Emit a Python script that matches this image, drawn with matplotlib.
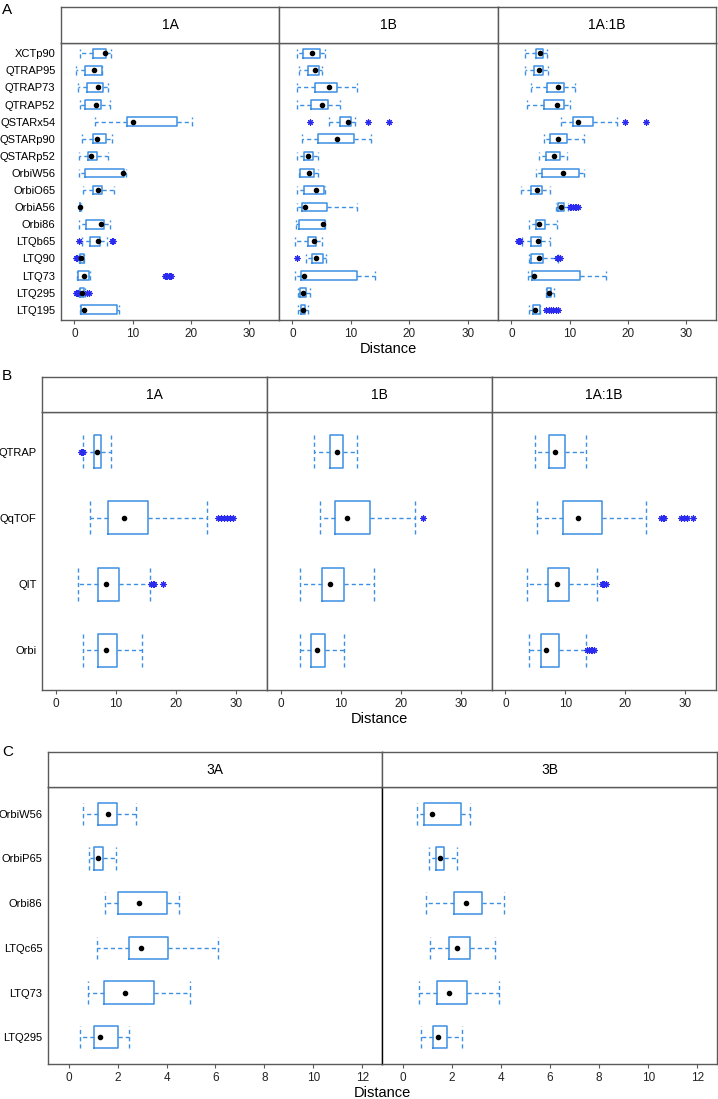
import matplotlib
matplotlib.use("Agg")
import matplotlib.pyplot as plt

plt.rcParams['font.family'] = ['Liberation Sans', 'DejaVu Sans']

# ---------------- DATA ----------------
# Panel A (rows top -> bottom)
A_labels = ["XCTp90", "QTRAP95", "QTRAP73", "QTRAP52", "QSTARx54", "QSTARp90", "QSTARp52",
            "OrbiW56", "OrbiO65", "OrbiA56", "Orbi86", "LTQb65", "LTQ90", "LTQ73", "LTQ295", "LTQ195"]
A_panels = ["1A", "1B", "1A:1B"]
# (whislo, q1, med, q3, whishi)
A_1A_stats = [(1.0, 3.2, 5.2, 5.5, 6.3), (0.35, 1.8, 3.4, 4.7, 4.8), (0.6, 2.2, 4.0, 4.9, 5.7),
              (1.0, 1.9, 3.8, 4.5, 6.1), (3.6, 9.1, 10.1, 17.6, 20.3), (1.3, 3.2, 3.9, 5.5, 6.4),
              (0.75, 2.3, 2.9, 3.9, 5.8), (0.86, 1.9, 8.3, 8.5, 8.8), (1.5, 3.2, 4.0, 4.8, 6.9),
              (0.9, 0.95, 1.0, 1.05, 1.1), (0.86, 1.95, 4.6, 5.05, 6.1), (1.3, 2.75, 4.0, 4.4, 5.6),
              (0.8, 0.9, 1.2, 1.6, 1.7), (0.5, 0.6, 1.6, 2.6, 2.7), (0.8, 1.0, 1.35, 1.6, 1.9),
              (1.0, 1.2, 1.7, 7.35, 7.7)]
A_1A_fliers = [[], [], [], [], [], [], [], [], [], [], [], [0.8, 6.4, 6.6],
               [0.3, 0.5], [15.6, 15.8, 16.0, 16.2, 16.4, 16.6], [0.3, 0.5, 0.6, 2.2, 2.5], []]
A_1B_stats = [(0.7, 1.8, 3.3, 4.7, 5.5), (1.15, 2.6, 3.8, 4.5, 5.0), (0.8, 3.9, 6.3, 7.6, 11.0),
              (0.8, 3.1, 5.0, 6.1, 8.2), (6.3, 8.2, 9.5, 10.0, 10.7), (1.65, 4.4, 7.7, 10.6, 13.5),
              (0.7, 2.0, 2.7, 3.5, 4.4), (1.15, 1.25, 2.85, 3.65, 4.4), (0.85, 2.0, 4.0, 5.4, 5.5),
              (0.85, 1.65, 2.2, 5.9, 11.0), (0.57, 1.1, 5.25, 5.5, 5.6), (0.5, 2.6, 3.65, 4.0, 5.0),
              (2.4, 3.4, 4.1, 5.15, 5.8), (0.5, 1.4, 1.95, 11.1, 14.1), (1.0, 1.3, 1.8, 2.3, 2.95),
              (1.0, 1.45, 1.8, 2.15, 2.7)]
A_1B_fliers = [[], [], [], [], [3.0, 13.0, 16.5], [], [], [], [], [], [], [],
               [0.7], [], [], []]
A_1A1B_stats = [(2.4, 4.2, 5.0, 5.5, 6.1), (2.3, 3.9, 4.7, 5.4, 6.3), (3.3, 6.1, 8.1, 9.1, 10.9),
                (2.7, 5.6, 7.9, 9.0, 10.0), (8.6, 10.6, 11.5, 14.0, 18.2), (5.6, 6.7, 8.0, 9.5, 12.45),
                (4.7, 6.0, 7.4, 8.3, 9.6), (4.2, 5.3, 8.85, 11.6, 12.45), (1.7, 3.4, 4.4, 5.25, 6.6),
                (7.6, 8.1, 8.6, 9.0, 9.7), (3.0, 4.3, 4.75, 5.7, 7.9), (1.8, 3.4, 4.6, 5.15, 6.6),
                (3.0, 3.4, 4.7, 5.4, 8.0), (2.85, 3.55, 3.9, 11.8, 16.2), (5.9, 6.2, 6.45, 6.85, 7.4),
                (3.0, 3.7, 4.0, 4.85, 4.95)]
A_1A1B_fliers = [[], [], [], [], [19.6, 23.2], [], [], [], [],
                 [10.0, 10.3, 10.6, 10.9, 11.2, 11.5], [], [1.1, 1.3, 1.5],
                 [7.9, 8.1, 8.3], [], [], [6.0, 6.4, 6.8, 7.2, 7.6, 8.1]]

# Panel B
B_labels = ["QTRAP", "QqTOF", "QIT", "Orbi"]
B_panels = ["1A", "1B", "1A:1B"]
B_1A_stats = [(4.6, 6.45, 6.95, 7.6, 9.2), (5.8, 8.7, 11.3, 15.3, 25.2),
              (3.7, 7.0, 8.3, 10.5, 15.6), (4.6, 7.0, 8.3, 10.2, 14.4)]
B_1A_fliers = [[4.2, 4.4, 4.6], [27.0, 27.5, 28.0, 28.5, 29.0, 29.5],
               [15.9, 16.1, 16.3, 17.8], []]
B_1B_stats = [(5.6, 8.2, 9.3, 10.4, 12.7), (6.5, 9.0, 11.05, 14.8, 22.4),
              (3.3, 6.95, 8.2, 10.5, 15.5), (3.2, 5.1, 6.1, 7.45, 10.6)]
B_1B_fliers = [[], [23.7], [], []]
B_1A1B_stats = [(5.0, 7.2, 8.3, 9.95, 13.4), (5.25, 9.6, 12.1, 16.1, 23.5),
                (3.65, 7.05, 8.6, 10.65, 15.3), (4.0, 5.95, 6.7, 8.95, 13.4)]
B_1A1B_fliers = [[], [25.9, 26.2, 26.5, 29.3, 29.8, 30.2, 31.3],
                 [16.1, 16.3, 16.5, 16.8], [13.6, 13.9, 14.2, 14.5, 14.8]]

# Panel C
C_labels = ["OrbiW56", "OrbiP65", "Orbi86", "LTQc65", "LTQ73", "LTQ295"]
C_panels = ["3A", "3B"]
C_3A_stats = [(0.59, 1.2, 1.63, 1.97, 2.74), (0.82, 1.02, 1.2, 1.42, 1.92),
              (1.5, 2.0, 2.89, 4.0, 4.52), (1.16, 2.46, 2.94, 4.08, 6.1),
              (0.8, 1.46, 2.29, 3.47, 4.95), (0.45, 1.05, 1.27, 2.0, 2.45)]
C_3B_stats = [(0.57, 0.89, 1.2, 2.37, 2.74), (1.09, 1.34, 1.54, 1.69, 2.2),
              (0.95, 2.1, 2.6, 3.24, 4.13), (1.12, 1.89, 2.2, 2.74, 3.77),
              (0.67, 1.39, 1.88, 2.64, 3.91), (0.74, 1.25, 1.42, 1.81, 2.4)]

A_ticks = [0, 10, 20, 30]
B_ticks = [0, 10, 20, 30]
C_ticks = [0, 2, 4, 6, 8, 10, 12]

# ---------------- STYLE ----------------
W, H = 718, 1099
BOX = '#3d8fe3'
FLIER = '#2b2bf0'
FRAME = '#5a5a5a'
fig = plt.figure(figsize=(W / 100, H / 100), dpi=100)


def rect(x0, y0, x1, y1):
    return [x0 / W, 1 - y1 / H, (x1 - x0) / W, (y1 - y0) / H]


def draw(ax, stats, fliers, labels, xlim, ticks, show_y):
    n = len(labels)
    pos = list(range(n, 0, -1))
    bstats = []
    for i, (lo, q1, med, q3, hi) in enumerate(stats):
        fl = fliers[i] if fliers is not None else []
        bstats.append(dict(label=labels[i], whislo=lo, q1=q1, med=med, q3=q3,
                           whishi=hi, fliers=fl, mean=med))
    kw = dict(positions=pos, widths=0.5, capwidths=0.5, showmeans=True,
              boxprops=dict(color=BOX, linewidth=1.1),
              whiskerprops=dict(color=BOX, linewidth=1.0, linestyle=(0, (3, 2.2))),
              capprops=dict(color=BOX, linewidth=1.0, linestyle=(0, (3, 2.2))),
              medianprops=dict(linewidth=0),
              meanprops=dict(marker='o', markerfacecolor='black', markeredgecolor='black',
                             markersize=3),
              flierprops=dict(marker=(8, 2, 0), markeredgecolor=FLIER, markerfacecolor=FLIER,
                              markersize=4.5, markeredgewidth=0.8, linestyle='none'))
    try:
        ax.bxp(bstats, orientation='horizontal', **kw)
    except TypeError:
        ax.bxp(bstats, vert=False, **kw)
    ax.set_xlim(*xlim)
    ax.set_ylim(0.4, n + 0.6)
    ax.set_xticks(ticks)
    ax.set_xticklabels([str(t) for t in ticks])
    ax.set_yticks(pos)
    if show_y:
        ax.set_yticklabels(labels)
    else:
        ax.set_yticklabels([])
    ax.tick_params(axis='y', length=0, labelsize=8, pad=4, colors='black')
    ax.tick_params(axis='x', length=3, width=0.8, color=FRAME, labelsize=8.5, pad=3,
                   labelcolor='#222222')
    for s in ax.spines.values():
        s.set_color(FRAME)
        s.set_linewidth(1.0)


def header(x0, y0, x1, y1, title):
    hx = fig.add_axes(rect(x0, y0, x1, y1))
    hx.set_xticks([])
    hx.set_yticks([])
    for s in hx.spines.values():
        s.set_color(FRAME)
        s.set_linewidth(1.0)
    hx.text(0.5, 0.5, title, ha='center', va='center', fontsize=10, transform=hx.transAxes)


# Panel A
A_x = [(61, 279), (279, 498), (498, 716)]
A_data = [(A_1A_stats, A_1A_fliers), (A_1B_stats, A_1B_fliers), (A_1A1B_stats, A_1A1B_fliers)]
for j, ((x0, x1), (st, fl)) in enumerate(zip(A_x, A_data)):
    ax = fig.add_axes(rect(x0, 43, x1, 320))
    ax.set_xlim(-2.3, 35.2)
    draw(ax, st, fl, A_labels, (-2.3, 35.2), A_ticks, j == 0)
    header(x0, 7, x1, 43, A_panels[j])
    if j == 1:
        ax.set_xlabel("Distance", fontsize=10.5, labelpad=1)

# Panel B
B_x = [(42, 267), (267, 492), (492, 716)]
B_data = [(B_1A_stats, B_1A_fliers), (B_1B_stats, B_1B_fliers), (B_1A1B_stats, B_1A1B_fliers)]
for j, ((x0, x1), (st, fl)) in enumerate(zip(B_x, B_data)):
    ax = fig.add_axes(rect(x0, 412, x1, 690))
    draw(ax, st, fl, B_labels, (-2.25, 35.1), B_ticks, j == 0)
    header(x0, 377, x1, 412, B_panels[j])
    if j == 1:
        ax.set_xlabel("Distance", fontsize=10.5, labelpad=1)

# Panel C
C_x = [(48, 382), (382, 717)]
C_data = [C_3A_stats, C_3B_stats]
for j, ((x0, x1), st) in enumerate(zip(C_x, C_data)):
    ax = fig.add_axes(rect(x0, 787, x1, 1064))
    draw(ax, st, None, C_labels, (-0.84, 12.8), C_ticks, j == 0)
    header(x0, 752, x1, 787, C_panels[j])
    if j == 1:
        ax.spines['left'].set_color('black')
fig.text(382 / W, 1 - 1093 / H, "Distance", ha='center', va='center', fontsize=10.5)

# Panel letters
fig.text(2 / W, 1 - 10 / H, "A", fontsize=11, va='center', ha='left')
fig.text(2 / W, 1 - 376 / H, "B", fontsize=11, va='center', ha='left')
fig.text(2 / W, 1 - 752 / H, "C", fontsize=11, va='center', ha='left')

fig.savefig("out.png", dpi=100)
